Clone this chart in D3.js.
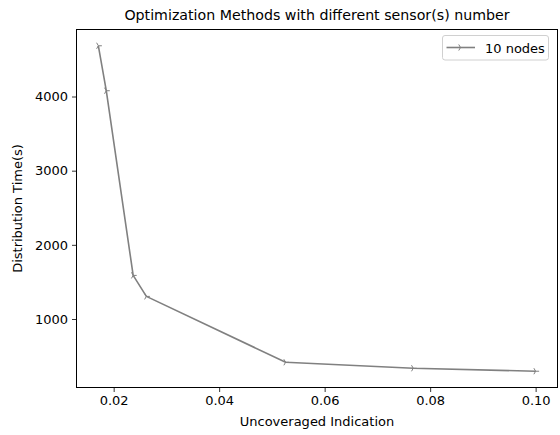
<!DOCTYPE html>
<html><head><meta charset="utf-8">
<script src="https://cdn.jsdelivr.net/npm/d3@7"></script>
<style>body{margin:0;background:#fff}svg{display:block;font-family:"DejaVu Sans",sans-serif}</style>
</head><body>
<script>
const xValues = [0.0171, 0.0186, 0.0237, 0.0262, 0.0526, 0.0768, 0.1000];
const yValues = [4684, 4078, 1588, 1305, 417, 336, 296];
const seriesName = "10 nodes";
const xTicks = [0.02, 0.04, 0.06, 0.08, 0.10];
const yTicks = [1000, 2000, 3000, 4000];
const title = "Optimization Methods with different sensor(s) number";
const xLabel = "Uncoveraged Indication";
const yLabel = "Distribution Time(s)";

const W = 560, H = 435;
const m = {left: 76.5, right: 557.5, top: 29.5, bottom: 387.5};
const color = "#808080";
const svg = d3.select("body").append("svg").attr("width", W).attr("height", H);

const xmin = d3.min(xValues), xmax = d3.max(xValues);
const ymin = d3.min(yValues), ymax = d3.max(yValues);
const xs = d3.scaleLinear().domain([xmin - 0.05*(xmax-xmin), xmax + 0.05*(xmax-xmin)]).range([m.left, m.right]);
const ys = d3.scaleLinear().domain([ymin - 0.05*(ymax-ymin), ymax + 0.05*(ymax-ymin)]).range([m.bottom, m.top]);

const fs = 13;
const xAxis = svg.append("g").attr("transform", `translate(0,${m.bottom})`)
  .call(d3.axisBottom(xs).tickValues(xTicks).tickFormat(d3.format(".2f")).tickSizeOuter(0).tickSize(4.5).tickPadding(4));
const yAxis = svg.append("g").attr("transform", `translate(${m.left},0)`)
  .call(d3.axisLeft(ys).tickValues(yTicks).tickFormat(d3.format("d")).tickSizeOuter(0).tickSize(4.5).tickPadding(4));
[xAxis, yAxis].forEach(a => {
  a.select(".domain").remove();
  a.selectAll("text").attr("font-size", fs).attr("font-family", "DejaVu Sans").attr("fill", "#000");
  a.selectAll("line").attr("stroke", "#000").attr("stroke-width", 0.8);
});

svg.append("rect").attr("x", m.left).attr("y", m.top).attr("width", m.right-m.left).attr("height", m.bottom-m.top)
  .attr("fill", "none").attr("stroke", "#000").attr("stroke-width", 1);

const data = xValues.map((x, i) => [x, yValues[i]]);
svg.append("path").datum(data)
  .attr("d", d3.line().x(d => xs(d[0])).y(d => ys(d[1])))
  .attr("fill", "none").attr("stroke", color).attr("stroke-width", 1.6).attr("stroke-linejoin", "round");

function tri(g, cx, cy) {
  const r = 3.5;
  const pts = [[r,0],[-r*0.5, -r*0.866],[-r*0.5, r*0.866]];
  pts.forEach(p => g.append("line").attr("x1", cx).attr("y1", cy).attr("x2", cx+p[0]).attr("y2", cy+p[1])
    .attr("stroke", color).attr("stroke-width", 1));
}
const mk = svg.append("g");
data.forEach(d => tri(mk, xs(d[0]), ys(d[1])));

svg.append("text").attr("x", (m.left+m.right)/2).attr("y", 20).attr("text-anchor", "middle")
  .attr("font-size", 14.2).text(title);
svg.append("text").attr("x", (m.left+m.right)/2).attr("y", 426).attr("text-anchor", "middle")
  .attr("font-size", fs).text(xLabel);
svg.append("text").attr("transform", `translate(22,${(m.top+m.bottom)/2}) rotate(-90)`).attr("text-anchor", "middle")
  .attr("font-size", fs).text(yLabel);

// legend
const lg = svg.append("g");
lg.append("rect").attr("x", 442.5).attr("y", 35.5).attr("width", 106).attr("height", 24.5).attr("rx", 2.5)
  .attr("fill", "#fff").attr("stroke", "#d0d0d0").attr("stroke-width", 1);
lg.append("line").attr("x1", 446.5).attr("x2", 475).attr("y1", 47.5).attr("y2", 47.5).attr("stroke", color).attr("stroke-width", 1.6);
tri(lg, 460.5, 47.5);
lg.append("text").attr("x", 485).attr("y", 52.5).attr("font-size", fs).text(seriesName);
</script>
</body></html>
